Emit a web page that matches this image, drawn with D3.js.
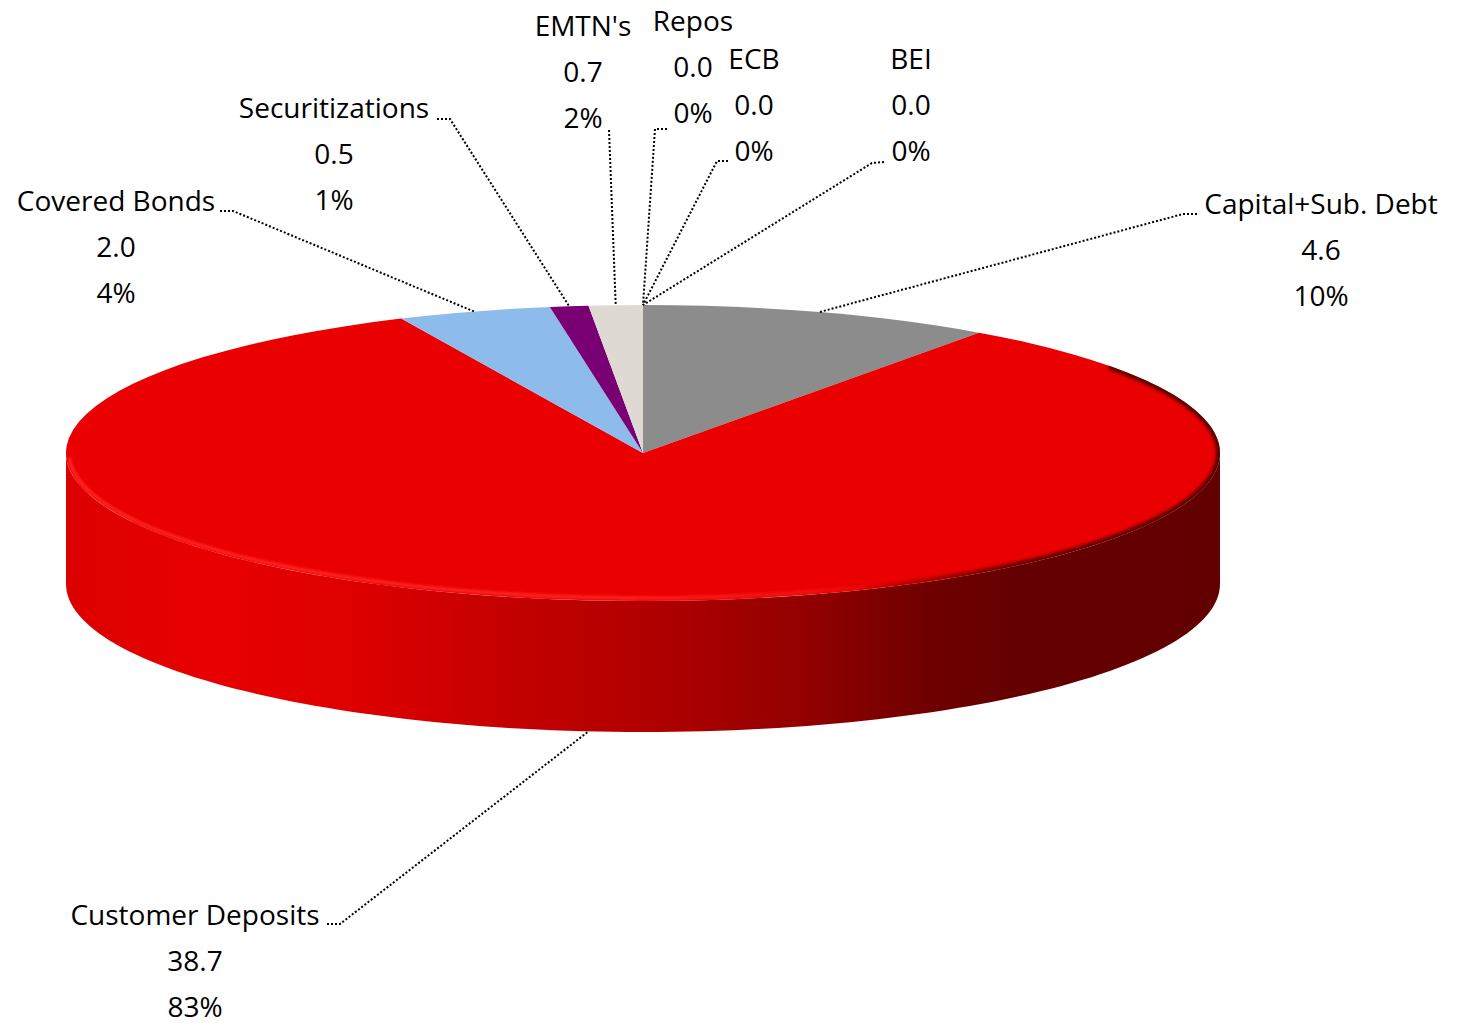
<!DOCTYPE html>
<html>
<head>
<meta charset="utf-8">
<script src="https://cdn.jsdelivr.net/npm/d3@7"></script>
<style>
  body { margin: 0; background: #ffffff; }
  svg text { font-family: "Open Sans", sans-serif; font-size: 28px; fill: #000; }
</style>
</head>
<body>
<svg id="chart" width="1458" height="1027"></svg>
<script>
// Funding structure, EUR bn
const categories = ["Capital+Sub. Debt", "Customer Deposits", "Covered Bonds", "Securitizations", "EMTN's", "Repos", "ECB", "BEI"];
const values = [4.6, 38.7, 2.0, 0.5, 0.7, 0.0, 0.0, 0.0];
const sliceColors = ["#8c8c8c", "#ea0000", "#8dbcec", "#780073", "#dedad3", "#c0c0c0", "#c0c0c0", "#c0c0c0"];

// Label placement: centre x, first baseline, leader polyline start (+ elbow)
const labelLayout = [
  { x: 1321, y: 214, leader: [[1197, 214], [1183, 214]] },
  { x: 195,  y: 925, leader: [[327, 924], [340, 924]] },
  { x: 116,  y: 211, leader: [[220, 211], [233, 211]] },
  { x: 334,  y: 118, leader: [[437, 119], [450, 119]] },
  { x: 583,  y: 36,  leader: [[609, 130]] },
  { x: 693,  y: 31,  leader: [[667, 129], [655, 129]] },
  { x: 754,  y: 69,  leader: [[728, 161], [717, 161]] },
  { x: 911,  y: 69,  leader: [[884, 162], [872, 163]] }
];

const svg = d3.select("#chart");
const cx = 643, cy = 453, rx = 577, ry = 148, depth = 131;
const lineGap = 46;

const total = d3.sum(values);
const fmtVal = d3.format(".1f");
const fmtPct = d3.format(".0%");

const arcs = d3.pie().sort(null).value(d => d)(values);

// point on the tilted rim for a pie angle (0 = 12 o'clock, clockwise)
const rim = (a, dy = 0, rxx = rx, ryy = ry) => [cx + rxx * Math.sin(a), cy - ryy * Math.cos(a) + dy];
const line = d3.line();
const sample = (a0, a1, n) => d3.range(n + 1).map(i => a0 + (a1 - a0) * i / n);

const defs = svg.append("defs");

// horizontal shading of the front wall
const wallShade = [[0, 0.94], [0.12, 0.99], [0.25, 0.95], [0.38, 0.84], [0.5, 0.76], [0.64, 0.63], [0.75, 0.47], [0.82, 0.43], [1, 0.42]];
arcs.forEach((d, i) => {
  const g = defs.append("linearGradient")
    .attr("id", "wall" + i).attr("gradientUnits", "userSpaceOnUse")
    .attr("x1", cx - rx).attr("x2", cx + rx).attr("y1", 0).attr("y2", 0);
  const c = d3.rgb(sliceColors[i]);
  wallShade.forEach(([o, k]) => {
    g.append("stop").attr("offset", o)
      .attr("stop-color", d3.rgb(c.r * k, c.g * k, c.b * k).formatHex());
  });
});

// rim highlight and shadow
const hl = defs.append("linearGradient").attr("id", "rimLight").attr("gradientUnits", "userSpaceOnUse")
  .attr("x1", cx - rx).attr("x2", cx + rx).attr("y1", 0).attr("y2", 0);
[[0, 0.9], [0.5, 0.8], [0.62, 0.5], [0.72, 0]].forEach(([o, op]) =>
  hl.append("stop").attr("offset", o).attr("stop-color", "#ff2424").attr("stop-opacity", op));
const sh = defs.append("linearGradient").attr("id", "rimShade").attr("gradientUnits", "userSpaceOnUse")
  .attr("x1", cx - rx).attr("x2", cx + rx).attr("y1", 0).attr("y2", 0);
[[0, 0], [0.68, 0], [0.82, 0.8], [1, 0.9]].forEach(([o, op]) =>
  sh.append("stop").attr("offset", o).attr("stop-color", "#4a0000").attr("stop-opacity", op));
defs.append("filter").attr("id", "soft").attr("x", "-5%").attr("y", "-5%").attr("width", "110%").attr("height", "110%")
  .append("feGaussianBlur").attr("stdDeviation", 1);
defs.append("filter").attr("id", "softer").attr("x", "-5%").attr("y", "-5%").attr("width", "110%").attr("height", "110%")
  .append("feGaussianBlur").attr("stdDeviation", 1.8);
const topClip = defs.append("clipPath").attr("id", "topClip");

// front wall (visible between 90° and 270°)
const wall = svg.append("g");
arcs.forEach((d, i) => {
  const s = Math.max(d.startAngle, Math.PI / 2), e = Math.min(d.endAngle, 3 * Math.PI / 2);
  if (e <= s) return;
  const top = sample(s, e, 120).map(a => rim(a));
  const bot = sample(e, s, 120).map(a => rim(a, depth));
  wall.append("path").attr("d", line(top.concat(bot)) + "Z").attr("fill", `url(#wall${i})`);
});

// top face
const arcGen = d3.arc().innerRadius(0).outerRadius(rx);
svg.append("g")
  .attr("transform", `translate(${cx},${cy}) scale(1,${ry / rx})`)
  .selectAll("path").data(arcs).join("path")
  .attr("d", arcGen)
  .attr("fill", (d, i) => sliceColors[i]);

// bevel along the rim, kept inside the top face
topClip.append("path").attr("d", line(sample(0, 2 * Math.PI, 240).map(a => rim(a))) + "Z");
const bevel = svg.append("g").attr("clip-path", "url(#topClip)");
bevel.append("path")
  .attr("d", line(sample(Math.PI * 0.52, Math.PI * 1.49, 160).map(a => rim(a, 0, rx - 3, ry - 3))))
  .attr("fill", "none").attr("stroke", "url(#rimLight)").attr("stroke-width", 4).attr("filter", "url(#soft)");
bevel.append("path")
  .attr("d", line(sample(Math.PI * 0.3, Math.PI * 0.9, 160).map(a => rim(a, 0, rx - 1, ry - 1))))
  .attr("fill", "none").attr("stroke", "url(#rimShade)").attr("stroke-width", 6).attr("filter", "url(#softer)");

// leader lines
const leaders = svg.append("g").attr("fill", "none").attr("stroke", "#000")
  .attr("stroke-width", 2).attr("stroke-dasharray", "2,2");
arcs.forEach((d, i) => {
  const mid = (d.startAngle + d.endAngle) / 2;
  const front = mid > Math.PI / 2 && mid < 3 * Math.PI / 2;
  const end = rim(mid, front ? depth : 0);
  leaders.append("path").attr("d", line(labelLayout[i].leader.concat([end])));
});

// labels
const labels = svg.append("g").attr("text-anchor", "middle");
arcs.forEach((d, i) => {
  const L = labelLayout[i];
  const t = labels.append("text").attr("x", L.x).attr("y", L.y);
  [categories[i], fmtVal(values[i]), fmtPct(values[i] / total)].forEach((s, k) => {
    t.append("tspan").attr("x", L.x).attr("y", L.y + k * lineGap).text(s);
  });
});
</script>
</body>
</html>
